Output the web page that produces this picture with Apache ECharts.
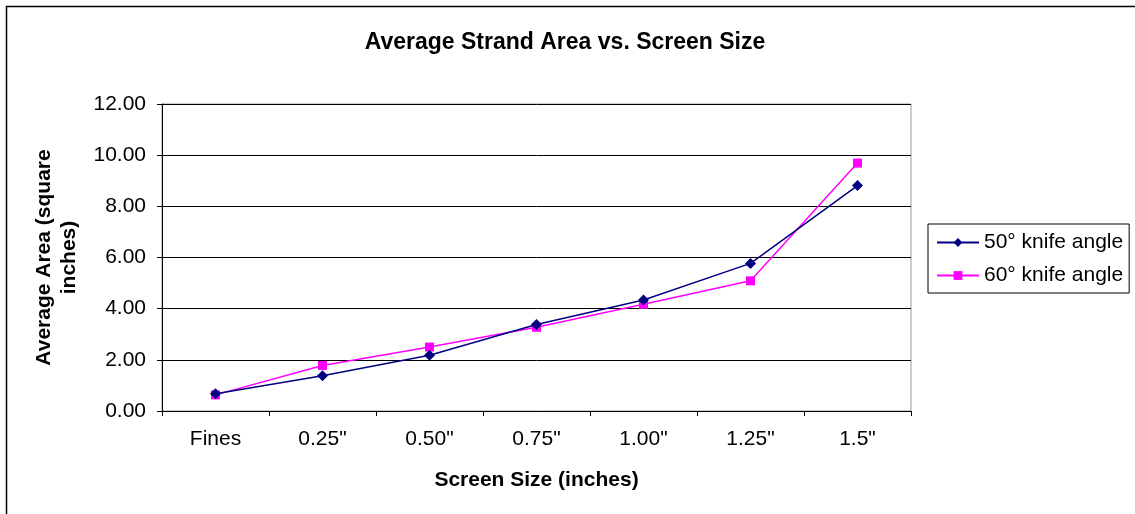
<!DOCTYPE html>
<html><head><meta charset="utf-8">
<script src="https://cdn.jsdelivr.net/npm/echarts@6/dist/echarts.min.js"></script>
<style>html,body{margin:0;padding:0;background:#fff}#c{width:1135px;height:514px}</style>
</head><body><div id="c"></div>
<script>
const categories = ['Fines', '0.25"', '0.50"', '0.75"', '1.00"', '1.25"', '1.5"'];
const knife50 = [0.67, 1.38, 2.18, 3.38, 4.34, 5.77, 8.81];
const knife60 = [0.63, 1.78, 2.50, 3.27, 4.17, 5.09, 9.69];
const seriesNames = ['50° knife angle', '60° knife angle'];
const yTicks = [0, 2, 4, 6, 8, 10, 12];

const chart = echarts.init(document.getElementById('c'));
const F = 'Liberation Sans, Arial, sans-serif';
chart.setOption({
  animation: false,
  backgroundColor: '#fff',
  textStyle: {fontFamily: F},
  title: {
    text: 'Average Strand Area vs. Screen Size',
    left: 560, top: 26, textAlign: 'center',
    textStyle: {fontFamily: F, fontSize: 23, fontWeight: 'bold', color: '#000'}
  },
  graphic: [
    {type: 'polyline', shape: {points: [[6.5, 514], [6.5, 6.5], [1135, 6.5]]}, style: {fill: null, stroke: '#000', lineWidth: 1.5}, silent: true}
  ],
  legend: {
    orient: 'vertical', left: 928, top: 224,
    padding: [8, 6, 7, 8], itemGap: 12,
    itemWidth: 42, itemHeight: 11,
    borderColor: '#000', borderWidth: 1,
    textStyle: {fontFamily: F, fontSize: 21, color: '#000'},
    data: seriesNames
  },
  grid: {left: 162, right: 224, top: 104, bottom: 103, show: true, borderColor: '#999', borderWidth: 1, containLabel: false},
  xAxis: {
    type: 'category', data: categories, boundaryGap: true,
    name: 'Screen Size (inches)', nameLocation: 'middle', nameGap: 59,
    nameTextStyle: {fontFamily: F, fontSize: 21, fontWeight: 'bold', color: '#000'},
    axisLine: {lineStyle: {color: '#000', width: 1}},
    axisTick: {show: true, length: 5, lineStyle: {color: '#000'}},
    axisLabel: {fontFamily: F, fontSize: 21, color: '#000', margin: 18}
  },
  yAxis: {
    type: 'value', min: yTicks[0], max: yTicks[yTicks.length-1], interval: 2,
    name: 'Average Area (square\ninches)', nameLocation: 'middle', nameGap: 80,
    nameTextStyle: {fontFamily: F, fontSize: 21, fontWeight: 'bold', color: '#000', lineHeight: 25},
    axisLine: {show: true, lineStyle: {color: '#000', width: 1}},
    axisTick: {show: true, length: 5, lineStyle: {color: '#000'}},
    axisLabel: {fontFamily: F, fontSize: 21, color: '#000', margin: 16, formatter: v => v.toFixed(2)},
    splitLine: {show: true, lineStyle: {color: '#000', width: 1}}
  },
  series: [
    {name: seriesNames[0], type: 'line', data: knife50, symbol: 'diamond', symbolSize: 11,
     itemStyle: {color: '#000080'}, lineStyle: {color: '#000080', width: 1.5}, z: 3},
    {name: seriesNames[1], type: 'line', data: knife60, symbol: 'rect', symbolSize: 9,
     itemStyle: {color: '#FF00FF'}, lineStyle: {color: '#FF00FF', width: 1.5}, z: 2}
  ]
});
</script></body></html>
